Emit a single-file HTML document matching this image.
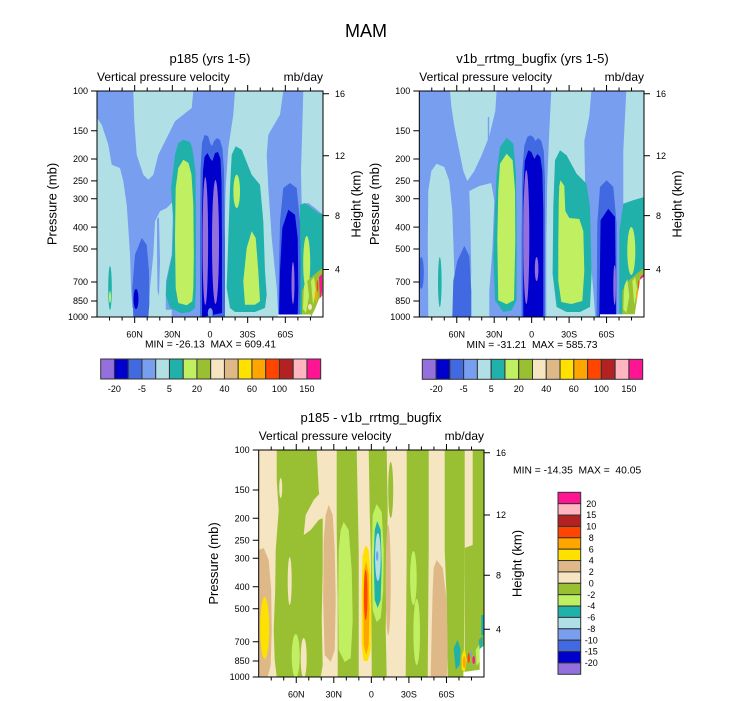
<!DOCTYPE html>
<html><head><meta charset="utf-8">
<style>html,body{margin:0;padding:0;background:#fff}svg{display:block}</style>
</head><body>
<svg xmlns="http://www.w3.org/2000/svg" xmlns:xlink="http://www.w3.org/1999/xlink" width="732" height="701" viewBox="0 0 732 701">
<style>
.c1{fill:#9370DB}.c2{fill:#0000CD}.c3{fill:#4169E1}.c4{fill:#789EF0}.c5{fill:#B0E0E6}.c6{fill:#20B2AA}.c7{fill:#C0F062}.c8{fill:#99C032}.c9{fill:#F5E5C0}.c10{fill:#DEB887}.c11{fill:#FFE100}.c12{fill:#FFA500}.c13{fill:#FF4500}.c14{fill:#B22222}.c15{fill:#FFB6C1}.c16{fill:#FF1493}.cw{fill:#fff}
text{font-family:"Liberation Sans",Arial,sans-serif;fill:#000}
.t9{font-size:9px}.t13{font-size:13px}.t12{font-size:12px}.mm{font-size:10.3px;white-space:pre}
.tk{stroke:#000;stroke-width:1;fill:none}
.cb rect{stroke:#333;stroke-width:1}
</style>
<defs>
<clipPath id="k1"><rect x="0" y="0" width="226" height="226"/></clipPath>
<clipPath id="k2"><rect x="0" y="0" width="224.7" height="226"/></clipPath>
<clipPath id="k3"><rect x="0" y="0" width="225.3" height="227"/></clipPath>
<path id="xa" d="M134.67,0v6M172.33,0v6M210,0v6M247.67,0v6M285.33,0v6M109.56,0v3.5M122.11,0v3.5M147.22,0v3.5M159.78,0v3.5M184.89,0v3.5M197.44,0v3.5M222.56,0v3.5M235.11,0v3.5M260.22,0v3.5M272.78,0v3.5M297.89,0v3.5M310.44,0v3.5"/>
<path id="xb" d="M456.75,0v6M494.2,0v6M531.65,0v6M569.1,0v6M606.55,0v6M431.78,0v3.5M444.27,0v3.5M469.23,0v3.5M481.72,0v3.5M506.68,0v3.5M519.17,0v3.5M544.13,0v3.5M556.62,0v3.5M581.58,0v3.5M594.07,0v3.5M619.03,0v3.5M631.52,0v3.5"/>
<path id="xc" d="M296.25,0v6M333.8,0v6M371.35,0v6M408.9,0v6M446.45,0v6M271.22,0v3.5M283.73,0v3.5M308.77,0v3.5M321.28,0v3.5M346.32,0v3.5M358.83,0v3.5M383.87,0v3.5M396.38,0v3.5M421.42,0v3.5M433.93,0v3.5M458.97,0v3.5M471.48,0v3.5"/>
</defs>
<rect width="732" height="701" fill="#fff"/>

<text x="366" y="37" font-size="18" text-anchor="middle">MAM</text>

<!-- ================= PANEL 1 ================= -->
<g transform="translate(97,91)" clip-path="url(#k1)">
<rect class="c4" width="226" height="226"/>
<polygon class="c5" points="0,27 4.7,33.7 11.3,53.7 14.7,73.7 23,77 26.3,90.3 29.7,113.7 31.3,137 33,163.7 34,197 35.3,217 51.3,218.7 74.7,218.7 74.7,226 0,226"/>
<polygon class="c5" points="58,130.3 63,120.3 69.7,117 76.3,110.3 74.7,163.7 69,190.3 68.7,226 51.3,226 53,197 56.3,163.7"/>
<polygon class="c4" points="60,128 62,126 63,170 62,205 60.5,200 60,160"/>
<polygon class="c5" points="36.3,0 37.3,30.3 39.7,63.7 46.3,83.7 51.3,88.7 56.3,83.7 61.3,63.7 69.7,47 78,30.3 94.7,17 96.3,0"/>
<polygon class="c5" points="138,0 186.3,0 183,23.7 171.3,43.7 169.7,63.7 171.3,97 174.7,147 179.7,197 181.3,226 126.3,226 126.3,197 127.3,147 128.7,97 131.3,57 136.3,23.7"/>
<polygon class="c5" points="206.3,0 226,0 226,123.7 218,117 211.3,112 204.7,113.7 204,80.3 205.3,37"/>
<!-- 30N -->
<polygon class="c6" points="86.3,48.7 93,51 95.3,57 98.5,80.3 99,130.3 99,197 98,217 93,221 84.7,222.3 73,217 68.7,203.7 69.7,190.3 75.3,163.7 76.3,130.3 74,97 78,63.7 81.3,52"/>
<polygon class="c7" points="86.3,68.7 91.5,72 94.5,83.7 96.3,113.7 96.8,163.7 96.3,197 95.3,210.3 89.7,214.3 81.3,212 78.7,197 78,147 78.7,97 81.3,77"/>
<!-- 30S -->
<polygon class="c6" points="138.7,55.3 144.7,58.7 154.7,83.7 163,93.7 166.3,130.3 168,180.3 169.7,203.7 168,217 158,221 138,221 133,217 129.7,197 131.3,147 133,97 134.7,63.7"/>
<ellipse class="c7" cx="139.7" cy="100.3" rx="3.3" ry="16.7"/>
<polygon class="c7" points="154.7,140.3 158.7,147 161.3,180.3 163,210.3 158,213.7 148,213.7 146.3,190.3 149.7,157"/>
<!-- equator -->
<polygon class="c3" points="103,226 103,150 103.5,80 105,52 107.5,44 111,45 113.5,53 115,55 117,50 120,47 123,49 125.5,58 127,80 128,150 128,226"/>
<polygon class="c2" points="105,226 105,120 106,80 107.5,66 110.5,62 113.5,68 115.5,70 118,62 121,61 123.5,68 124.5,90 125,150 125,222 115,224"/>
<ellipse class="c1" cx="108.3" cy="150" rx="2.8" ry="64"/>
<ellipse class="c1" cx="118.5" cy="151" rx="3.5" ry="62"/>
<ellipse class="c4" cx="113.3" cy="222" rx="2.5" ry="5"/>
<!-- 60N -->
<polygon class="c3" points="44.7,147 49.7,153.7 52,180.3 52.3,213.7 51.3,226 36.3,226 35.3,197 38,163.7"/>
<ellipse class="c2" cx="39" cy="208" rx="2.5" ry="10"/>
<ellipse class="c6" cx="13" cy="197" rx="1.8" ry="22"/>
<ellipse class="c7" cx="13" cy="206" rx="1" ry="6"/>
<!-- right side -->
<polygon class="c6" points="203,113.7 208,112 214.7,117 221.3,122 226,123.7 226,226 203,226"/>
<ellipse class="c7" cx="209.7" cy="172" rx="3.5" ry="27"/>
<polygon class="c8" points="205,200 210,190 217,184 224,178 226,178 226,210 221,212 216,224 205,224"/>
<polygon class="c7" points="207,195 210,188 212,205 209,222 206,218"/>
<polygon class="c7" points="214,190 217,186 219,200 216,214"/>
<ellipse class="c9" cx="213" cy="216" rx="2" ry="3"/>
<ellipse class="c12" cx="219" cy="205" rx="1.2" ry="6"/>
<polygon class="c16" points="222,186 225,183 225,200 223,210"/>
<ellipse class="c13" cx="220.5" cy="195" rx="0.8" ry="6"/>
<!-- 60S -->
<polygon class="c3" points="193,92 199.7,97 203,130.3 203.7,180.3 203,226 181.3,226 182,180.3 183,130.3 186.3,97"/>
<polygon class="c2" points="191.3,118.7 198,123.7 200.7,147 201.3,197 200.7,226 182,226 183,180.3 185.3,137"/>
<ellipse class="c1" cx="196" cy="192" rx="1.5" ry="21"/>
<polygon class="cw" points="222,208 226,204 226,226 214,226 218,218"/>
<rect class="cw" x="181" y="223.5" width="33" height="2.5"/>
</g>
<rect x="97" y="91" width="226" height="226" fill="none" stroke="#000" stroke-width="1"/>
<path class="tk" d="M91,91h6M91,130.8h6M91,159h6M91,180.9h6M91,198.8h6M91,227.1h6M91,249h6M91,282h6M91,301h6M91,317h6M323,93.8h6M323,155.7h6M323,215.6h6M323,269.5h6"/>
<use xlink:href="#xa" href="#xa" class="tk" transform="translate(0,317)"/>
<use xlink:href="#xa" href="#xa" class="tk" transform="translate(0,91) scale(1,-1)"/>
<g class="t9" text-anchor="end">
<text x="88" y="94.2">100</text><text x="88" y="134">150</text><text x="88" y="162.2">200</text><text x="88" y="184.1">250</text><text x="88" y="202">300</text><text x="88" y="230.3">400</text><text x="88" y="252.2">500</text><text x="88" y="285.2">700</text><text x="88" y="304.2">850</text><text x="88" y="320.2">1000</text>
</g>
<g class="t9">
<text x="335" y="97">16</text><text x="335" y="158.9">12</text><text x="335" y="218.8">8</text><text x="335" y="272.7">4</text>
</g>
<g class="t9" text-anchor="middle">
<text x="134.67" y="337.5">60N</text><text x="172.33" y="337.5">30N</text><text x="210" y="337.5">0</text><text x="247.67" y="337.5">30S</text><text x="285.33" y="337.5">60S</text>
</g>
<text class="t13" x="210" y="63" text-anchor="middle">p185 (yrs 1-5)</text>
<text class="t12" x="97" y="81">Vertical pressure velocity</text>
<text class="t12" x="323" y="81" text-anchor="end">mb/day</text>
<text class="t13" transform="translate(56.5,204) rotate(-90)" text-anchor="middle">Pressure (mb)</text>
<text class="t13" transform="translate(360.5,204) rotate(-90)" text-anchor="middle">Height (km)</text>
<text class="mm" x="210.5" y="347.6" text-anchor="middle">MIN = -26.13  MAX = 609.41</text>

<!-- colorbar 1 -->
<g class="cb" transform="translate(100.7,359)">
<rect class="c1" x="0" width="13.75" height="20"/><rect class="c2" x="13.75" width="13.75" height="20"/><rect class="c3" x="27.5" width="13.75" height="20"/><rect class="c4" x="41.25" width="13.75" height="20"/><rect class="c5" x="55" width="13.75" height="20"/><rect class="c6" x="68.75" width="13.75" height="20"/><rect class="c7" x="82.5" width="13.75" height="20"/><rect class="c8" x="96.25" width="13.75" height="20"/><rect class="c9" x="110" width="13.75" height="20"/><rect class="c10" x="123.75" width="13.75" height="20"/><rect class="c11" x="137.5" width="13.75" height="20"/><rect class="c12" x="151.25" width="13.75" height="20"/><rect class="c13" x="165" width="13.75" height="20"/><rect class="c14" x="178.75" width="13.75" height="20"/><rect class="c15" x="192.5" width="13.75" height="20"/><rect class="c16" x="206.25" width="13.75" height="20"/>
</g>
<g class="t9" text-anchor="middle" transform="translate(100.7,359)">
<text x="13.75" y="33.2">-20</text><text x="41.25" y="33.2">-5</text><text x="68.75" y="33.2">5</text><text x="96.25" y="33.2">20</text><text x="123.75" y="33.2">40</text><text x="151.25" y="33.2">60</text><text x="178.75" y="33.2">100</text><text x="206.25" y="33.2">150</text>
</g>

<!-- ================= PANEL 2 ================= -->
<g transform="translate(419.3,91)" clip-path="url(#k2)">
<rect class="c4" width="225" height="226"/>
<polygon class="c5" points="17.3,72.7 12,80 9,100 8.5,150 9,226 37,226 35,180 33,120 30,90 25,76"/>
<ellipse class="c3" cx="2" cy="182" rx="2.5" ry="16"/>
<polygon class="c5" points="30.7,0 77.3,0 76,20 70,45 62,65 55,80 48,90 44,80 40,60 35,35 32,15"/>
<rect class="c4" x="68.5" y="26" width="1.4" height="63"/>
<polygon class="c5" points="50,100 60,95 72,92 75,110 73,160 70,200 70,226 50,226 52,180 51,130"/>
<polygon class="c5" points="132,0 172,0 170,25 165,50 166,100 170,150 174,200 176,226 127,226 127,150 128,90 130,40"/>
<polygon class="c5" points="207,0 225,0 225,106 214,109.3 204,112.7 204,60 206,20"/>
<polygon class="c6" points="204,112.7 214,109.3 225,106 225,226 200,226 200,140"/>
<ellipse class="c7" cx="212" cy="160" rx="4" ry="24"/>
<polygon class="c8" points="203,200 209,190 216,184 223,178 225,178 225,210 220,212 215,224 203,224"/>
<polygon class="c7" points="205,195 208,188 210,205 207,222 204,218"/>
<polygon class="c7" points="213,190 216,186 218,200 215,214"/>
<ellipse class="c12" cx="218" cy="204" rx="1.2" ry="6"/>
<polygon class="c16" points="221,186 224.7,183 224.7,200 222,210"/>
<ellipse class="c13" cx="219.5" cy="195" rx="0.8" ry="6"/>
<!-- 30N -->
<polygon class="c6" points="87.3,46.7 94,52.7 96.7,82.7 97.3,149.3 97.3,209.3 92.3,219.3 84,221 75.7,209.3 74,166 75.7,116 77.3,82.7 80.7,56"/>
<polygon class="c7" points="87.3,62.7 93.3,69.3 95.7,99.3 96,149.3 94.7,209.3 87.3,213.3 79,209.3 78,149.3 79,99.3 80.7,72.7"/>
<!-- equator -->
<polygon class="c3" points="102.3,226 102.3,150 103,80 105,55 108,46 111,44.3 114,46 116,50 119,47 122,50 124.5,60 125.7,90 125.7,226"/>
<polygon class="c2" points="104,226 104,100 105.5,70 109,59.3 112,61 115,68 118,63 121,66 123,80 124,120 124,226"/>
<ellipse class="c1" cx="107" cy="146" rx="3" ry="67"/>
<ellipse class="c1" cx="117.3" cy="178" rx="1.8" ry="12"/>
<!-- 60N -->
<polygon class="c3" points="45,155 50,165 52,200 52,226 33,226 34,190 38,170"/>
<ellipse class="c6" cx="20.5" cy="191" rx="1.8" ry="25"/>
<!-- 30S -->
<polygon class="c6" points="140.7,59.3 147.3,64.3 157.3,82.7 167.3,92.7 170.7,116 172.3,182.7 170.7,216 160.7,221 147.3,221 137.3,216 133.3,182.7 134,116 135.7,69.3"/>
<polygon class="c7" points="141.3,89.3 145,95 146,120 150,127 160,128 164,140 165,180 163,210 152,213 142,211 139,190 139,150 139.5,110 140,95"/>
<!-- 60S -->
<polygon class="c3" points="187.3,89.3 194,96 197.3,132.7 197.3,226 177.3,226 178,132.7 180.7,96"/>
<polygon class="c2" points="189,117.7 195.7,126 196.7,226 180,226 181.3,129.3"/>
<ellipse class="c1" cx="195.3" cy="194" rx="1.3" ry="20"/>
<polygon class="cw" points="220.7,189 225,185 225,226 215,226"/>
<rect class="cw" x="180.7" y="223.3" width="36.6" height="2.7"/>
</g>
<rect x="419.3" y="91" width="224.7" height="226" fill="none" stroke="#000" stroke-width="1"/>
<path class="tk" d="M413.3,91h6M413.3,130.8h6M413.3,159h6M413.3,180.9h6M413.3,198.8h6M413.3,227.1h6M413.3,249h6M413.3,282h6M413.3,301h6M413.3,317h6M644,93.8h6M644,155.7h6M644,215.6h6M644,269.5h6"/>
<use xlink:href="#xb" href="#xb" class="tk" transform="translate(0,317)"/>
<use xlink:href="#xb" href="#xb" class="tk" transform="translate(0,91) scale(1,-1)"/>
<g class="t9" text-anchor="end">
<text x="410.3" y="94.2">100</text><text x="410.3" y="134">150</text><text x="410.3" y="162.2">200</text><text x="410.3" y="184.1">250</text><text x="410.3" y="202">300</text><text x="410.3" y="230.3">400</text><text x="410.3" y="252.2">500</text><text x="410.3" y="285.2">700</text><text x="410.3" y="304.2">850</text><text x="410.3" y="320.2">1000</text>
</g>
<g class="t9">
<text x="656" y="97">16</text><text x="656" y="158.9">12</text><text x="656" y="218.8">8</text><text x="656" y="272.7">4</text>
</g>
<g class="t9" text-anchor="middle">
<text x="456.75" y="337.5">60N</text><text x="494.2" y="337.5">30N</text><text x="531.65" y="337.5">0</text><text x="569.1" y="337.5">30S</text><text x="606.55" y="337.5">60S</text>
</g>
<text class="t13" x="532.5" y="63" text-anchor="middle">v1b_rrtmg_bugfix (yrs 1-5)</text>
<text class="t12" x="419.3" y="81">Vertical pressure velocity</text>
<text class="t12" x="644" y="81" text-anchor="end">mb/day</text>
<text class="t13" transform="translate(378.8,204) rotate(-90)" text-anchor="middle">Pressure (mb)</text>
<text class="t13" transform="translate(681.5,204) rotate(-90)" text-anchor="middle">Height (km)</text>
<text class="mm" x="532" y="347.8" text-anchor="middle">MIN = -31.21  MAX = 585.73</text>

<g class="cb" transform="translate(422.3,359.3) scale(1.0018,1)">
<rect class="c1" x="0" width="13.75" height="20"/><rect class="c2" x="13.75" width="13.75" height="20"/><rect class="c3" x="27.5" width="13.75" height="20"/><rect class="c4" x="41.25" width="13.75" height="20"/><rect class="c5" x="55" width="13.75" height="20"/><rect class="c6" x="68.75" width="13.75" height="20"/><rect class="c7" x="82.5" width="13.75" height="20"/><rect class="c8" x="96.25" width="13.75" height="20"/><rect class="c9" x="110" width="13.75" height="20"/><rect class="c10" x="123.75" width="13.75" height="20"/><rect class="c11" x="137.5" width="13.75" height="20"/><rect class="c12" x="151.25" width="13.75" height="20"/><rect class="c13" x="165" width="13.75" height="20"/><rect class="c14" x="178.75" width="13.75" height="20"/><rect class="c15" x="192.5" width="13.75" height="20"/><rect class="c16" x="206.25" width="13.75" height="20"/>
</g>
<g class="t9" text-anchor="middle" transform="translate(422.3,359)">
<text x="13.78" y="33.2">-20</text><text x="41.3" y="33.2">-5</text><text x="68.9" y="33.2">5</text><text x="96.4" y="33.2">20</text><text x="124" y="33.2">40</text><text x="151.5" y="33.2">60</text><text x="179.1" y="33.2">100</text><text x="206.6" y="33.2">150</text>
</g>

<!-- ================= PANEL 3 ================= -->
<g transform="translate(258.7,450)" clip-path="url(#k3)">
<rect class="c9" width="226" height="227"/>
<polygon class="c8" points="18,0 58,0 60,40 64,70 64,120 63,170 64,215 62,227 18,227 16,210 15,180 16.5,140 17,100 20,60 18,30"/>
<ellipse class="c9" cx="22" cy="38" rx="1.5" ry="10"/>
<polygon class="c9" points="64,40 55,50 47,65 45,85 52,80 60,70 64,68"/>
<ellipse class="c9" cx="31" cy="131" rx="2" ry="24"/>
<ellipse class="c7" cx="37" cy="206" rx="4" ry="22"/>
<ellipse class="c9" cx="45" cy="208" rx="3" ry="20"/>
<polygon class="c10" points="0,100 5,98 10,110 12.5,140 13,180 12,215 9,227 0,227"/>
<ellipse class="c11" cx="6" cy="178" rx="4.5" ry="31"/>
<polygon class="c10" points="70,55 74,65 76,100 77,150 76,200 72,212 66,205 64.5,150 65,90 67,65"/>
<polygon class="c8" points="78,0 98,0 99,50 100,100 100,227 79,227 79,150 78,80"/>
<polygon class="c7" points="85,72 90,80 93,120 94,170 92,208 86,212 80,200 79.5,150 80,100 82,80"/>
<polygon class="c8" points="110,0 128,0 129,60 128,120 127,180 128,227 113,227 113,212 112,100 111,60"/>
<polygon class="c11" points="107,95 110,100 112,130 112.5,170 112,200 109,211 105,211 103,195 103,140 104,105"/>
<polygon class="c12" points="107.5,111 110,125 110.7,160 110,195 107.5,205 105,195 104.7,150 105.5,120"/>
<ellipse class="c13" cx="107" cy="145" rx="1.8" ry="25"/>
<polygon class="c7" points="118,54 123,62 125,100 124.5,140 122,168 118,172 114,160 113,110 114,65"/>
<polygon class="c6" points="118.5,71 122,80 123,115 122,150 119,158 116,150 115,110 116,80"/>
<ellipse class="c5" cx="119.2" cy="107" rx="2.8" ry="24"/>
<ellipse class="c4" cx="118.5" cy="106" rx="1.2" ry="5"/>
<ellipse class="c8" cx="132" cy="40" rx="2.5" ry="28"/>
<ellipse class="c10" cx="129.5" cy="130" rx="2.5" ry="55"/>
<polygon class="c8" points="148,0 170,0 170,100 169,227 147,227 148,100"/>
<ellipse class="c7" cx="154.7" cy="128" rx="3.3" ry="27"/>
<ellipse class="c7" cx="158" cy="182" rx="3.3" ry="33"/>
<polygon class="c8" points="186,0 206,0 206,100 205,227 189,227 188,150 186,100"/>
<polygon class="c10" points="178,110 184,118 188,150 189,200 188,227 172,227 173,180 174,140 175,118"/>
<polygon class="c8" points="214,0 226,0 226,227 206,227 206,98 214,95"/>
<rect class="c6" x="222.5" y="165" width="3" height="20"/>
<polygon class="c6" points="195,198 199,190 202,200 201,215 197,220"/>
<polygon class="c11" points="203,206 206,198 208,210 206,222 203,220"/>
<ellipse class="c12" cx="205.5" cy="212" rx="1.5" ry="6"/>
<ellipse class="c13" cx="210" cy="208" rx="1.2" ry="5"/>
<ellipse class="c4" cx="212" cy="204" rx="1" ry="3"/>
<ellipse class="c16" cx="215" cy="210" rx="1.3" ry="4"/>
<polygon class="c7" points="217,200 221,194 222,210 218,216"/>
<polygon class="c6" points="220,190 224,186 224,198 221,200"/>
<polygon class="cw" points="204.7,222 226,219 226,227 204.7,227"/>
<polygon class="cw" points="221,199 226,195 226,221 221,221"/>
</g>
<rect x="258.7" y="450" width="225.3" height="227" fill="none" stroke="#000" stroke-width="1"/>
<path class="tk" d="M252.7,450h6M252.7,490h6M252.7,518.3h6M252.7,540.3h6M252.7,558.3h6M252.7,586.7h6M252.7,608.7h6M252.7,641.8h6M252.7,661h6M252.7,677h6M484,452.8h6M484,515h6M484,575.2h6M484,629.3h6"/>
<use xlink:href="#xc" href="#xc" class="tk" transform="translate(0,677)"/>
<use xlink:href="#xc" href="#xc" class="tk" transform="translate(0,450) scale(1,-1)"/>
<g class="t9" text-anchor="end">
<text x="249.7" y="453.2">100</text><text x="249.7" y="493.2">150</text><text x="249.7" y="521.5">200</text><text x="249.7" y="543.5">250</text><text x="249.7" y="561.5">300</text><text x="249.7" y="589.9">400</text><text x="249.7" y="611.9">500</text><text x="249.7" y="645">700</text><text x="249.7" y="664.2">850</text><text x="249.7" y="680.2">1000</text>
</g>
<g class="t9">
<text x="496" y="456">16</text><text x="496" y="518.2">12</text><text x="496" y="578.4">8</text><text x="496" y="632.5">4</text>
</g>
<g class="t9" text-anchor="middle">
<text x="296.25" y="697.5">60N</text><text x="333.8" y="697.5">30N</text><text x="371.35" y="697.5">0</text><text x="408.9" y="697.5">30S</text><text x="446.45" y="697.5">60S</text>
</g>
<text class="t13" x="371" y="422" text-anchor="middle">p185 - v1b_rrtmg_bugfix</text>
<text class="t12" x="258.7" y="440">Vertical pressure velocity</text>
<text class="t12" x="484" y="440" text-anchor="end">mb/day</text>
<text class="t13" transform="translate(218.2,563.5) rotate(-90)" text-anchor="middle">Pressure (mb)</text>
<text class="t13" transform="translate(521.5,563.5) rotate(-90)" text-anchor="middle">Height (km)</text>
<text class="mm" x="513" y="473.3">MIN = -14.35  MAX =  40.05</text>

<!-- vertical colorbar -->
<g class="cb" transform="translate(558,492.3)">
<rect class="c16" y="0" width="22.7" height="11.375"/><rect class="c15" y="11.375" width="22.7" height="11.375"/><rect class="c14" y="22.75" width="22.7" height="11.375"/><rect class="c13" y="34.125" width="22.7" height="11.375"/><rect class="c12" y="45.5" width="22.7" height="11.375"/><rect class="c11" y="56.875" width="22.7" height="11.375"/><rect class="c10" y="68.25" width="22.7" height="11.375"/><rect class="c9" y="79.625" width="22.7" height="11.375"/><rect class="c8" y="91" width="22.7" height="11.375"/><rect class="c7" y="102.375" width="22.7" height="11.375"/><rect class="c6" y="113.75" width="22.7" height="11.375"/><rect class="c5" y="125.125" width="22.7" height="11.375"/><rect class="c4" y="136.5" width="22.7" height="11.375"/><rect class="c3" y="147.875" width="22.7" height="11.375"/><rect class="c2" y="159.25" width="22.7" height="11.375"/><rect class="c1" y="170.625" width="22.7" height="11.375"/>
</g>
<g class="t9" text-anchor="middle" transform="translate(558,492.3)">
<text x="33.3" y="14.6">20</text><text x="33.3" y="25.95">15</text><text x="33.3" y="37.3">10</text><text x="33.3" y="48.7">8</text><text x="33.3" y="60.1">6</text><text x="33.3" y="71.45">4</text><text x="33.3" y="82.8">2</text><text x="33.3" y="94.2">0</text><text x="33.3" y="105.6">-2</text><text x="33.3" y="116.95">-4</text><text x="33.3" y="128.3">-6</text><text x="33.3" y="139.7">-8</text><text x="33.3" y="151.1">-10</text><text x="33.3" y="162.45">-15</text><text x="33.3" y="173.8">-20</text>
</g>
</svg>
</body></html>
